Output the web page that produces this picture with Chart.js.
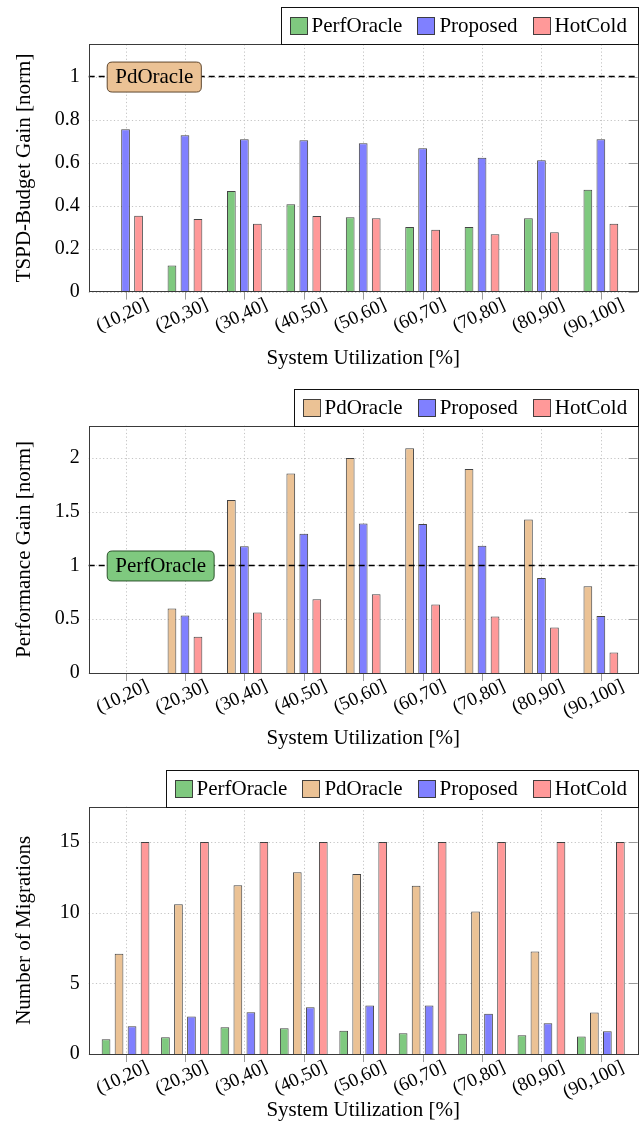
<!DOCTYPE html>
<html><head><meta charset="utf-8">
<script src="https://cdn.jsdelivr.net/npm/chart.js@4.4.1/dist/chart.umd.min.js"></script>
<style>
html,body{margin:0;padding:0;background:#fff;}
.wrap{position:absolute;left:0;width:644px;}
canvas{display:block;}
</style></head><body>
<div class="wrap" style="top:0;height:380px"><canvas id="c1" width="644" height="380"></canvas></div>
<div class="wrap" style="top:380px;height:380px"><canvas id="c2" width="644" height="380"></canvas></div>
<div class="wrap" style="top:760px;height:372px"><canvas id="c3" width="644" height="372"></canvas></div>
<script>
// ---------- data ----------
const categories = ['(10,20]', '(20,30]', '(30,40]', '(40,50]', '(50,60]', '(60,70]', '(70,80]', '(80,90]', '(90,100]'];

const budgetPerfOracle = [0, 0.121, 0.468, 0.406, 0.346, 0.300, 0.300, 0.341, 0.474];
const budgetProposed   = [0.755, 0.727, 0.709, 0.704, 0.690, 0.667, 0.622, 0.611, 0.709];
const budgetHotCold    = [0.353, 0.338, 0.316, 0.351, 0.341, 0.288, 0.267, 0.276, 0.315];
const budgetTicks = [0, 0.2, 0.4, 0.6, 0.8, 1];

const perfPdOracle = [0, 0.601, 1.608, 1.856, 2.0, 2.09, 1.898, 1.428, 0.807];
const perfProposed = [0, 0.535, 1.179, 1.294, 1.39, 1.385, 1.184, 0.884, 0.529];
const perfHotCold  = [0, 0.336, 0.563, 0.687, 0.733, 0.636, 0.525, 0.423, 0.19];
const perfTicks = [0, 0.5, 1, 1.5, 2];

const migPerfOracle = [1.04, 1.18, 1.89, 1.82, 1.65, 1.47, 1.44, 1.32, 1.23];
const migPdOracle   = [7.09, 10.59, 11.94, 12.86, 12.73, 11.9, 10.09, 7.25, 2.93];
const migProposed   = [1.96, 2.65, 2.96, 3.31, 3.43, 3.43, 2.84, 2.17, 1.61];
const migHotCold    = [15, 15, 15, 15, 15, 15, 15, 15, 15];
const migTicks = [0, 5, 10, 15];

// ---------- styles ----------
const FONT = "'Liberation Serif', 'Times New Roman', serif";
const COL = { perf: '#7fc97f', pd: '#ebc295', prop: '#8080ff', hot: '#ff9999' };
const EDGE = 'rgba(35,35,35,0.85)';
Chart.defaults.font.family = FONT;
Chart.defaults.color = '#000';

function series(label, vals, color) {
  return {
    label, backgroundColor: color, borderColor: EDGE, borderWidth: 1,
    data: vals.map((v, i) => ({ x: i, y: v }))
  };
}

function roundRect(ctx, x, y, w, h, r) {
  ctx.beginPath();
  ctx.moveTo(x + r, y);
  ctx.lineTo(x + w - r, y); ctx.quadraticCurveTo(x + w, y, x + w, y + r);
  ctx.lineTo(x + w, y + h - r); ctx.quadraticCurveTo(x + w, y + h, x + w - r, y + h);
  ctx.lineTo(x + r, y + h); ctx.quadraticCurveTo(x, y + h, x, y + h - r);
  ctx.lineTo(x, y + r); ctx.quadraticCurveTo(x, y, x + r, y);
  ctx.closePath();
}

function decor(opts) {
  return {
    id: 'decor',
    beforeDatasetsDraw(chart) {
      const { ctx, chartArea: a, scales: { x, y } } = chart;
      ctx.save();
      ctx.strokeStyle = '#c4c4c4'; ctx.lineWidth = 1; ctx.setLineDash([1.2, 2.4]);
      y.ticks.forEach(t => {
        const py = Math.round(y.getPixelForValue(t.value)) + 0.5;
        ctx.beginPath(); ctx.moveTo(a.left, py); ctx.lineTo(a.right, py); ctx.stroke();
      });
      x.ticks.forEach(t => {
        const px = Math.round(x.getPixelForValue(t.value)) + 0.5;
        ctx.beginPath(); ctx.moveTo(px, a.top); ctx.lineTo(px, a.bottom); ctx.stroke();
      });
      ctx.restore();
    },
    afterDatasetsDraw(chart) {
      const { ctx, chartArea: a, scales: { x, y } } = chart;
      ctx.save();
      // tick marks
      ctx.strokeStyle = '#9a9a9a'; ctx.lineWidth = 1;
      y.ticks.forEach(t => {
        const py = Math.round(y.getPixelForValue(t.value)) + 0.5;
        ctx.beginPath(); ctx.moveTo(a.right - 9, py); ctx.lineTo(a.right, py); ctx.stroke();
      });
      x.ticks.forEach(t => {
        const px = Math.round(x.getPixelForValue(t.value)) + 0.5;
        ctx.beginPath(); ctx.moveTo(px, a.bottom); ctx.lineTo(px, a.bottom + 8); ctx.stroke();
      });
      // reference line + label
      if (opts.ref) {
        const py = y.getPixelForValue(opts.ref.value);
        ctx.strokeStyle = '#000'; ctx.lineWidth = 1.6; ctx.setLineDash([6, 4]);
        ctx.beginPath(); ctx.moveTo(a.left, py); ctx.lineTo(a.right, py); ctx.stroke();
        ctx.setLineDash([]);
        ctx.font = '21px ' + FONT;
        const tw = ctx.measureText(opts.ref.text).width;
        const bx = a.left + 18, bw = tw + 16, bh = 30, by = py - bh / 2;
        roundRect(ctx, bx + 0.5, by + 0.5, bw, bh, 5);
        ctx.fillStyle = opts.ref.fill; ctx.fill();
        ctx.strokeStyle = opts.ref.stroke; ctx.lineWidth = 1; ctx.stroke();
        ctx.fillStyle = '#000'; ctx.textAlign = 'center'; ctx.textBaseline = 'middle';
        ctx.fillText(opts.ref.text, bx + bw / 2 + 0.5, py + 1);
      }
      // frame
      ctx.strokeStyle = '#3a3a3a'; ctx.lineWidth = 1;
      ctx.strokeRect(Math.round(a.left) + 0.5, Math.round(a.top) + 0.5,
                     Math.round(a.right - a.left), Math.round(a.bottom - a.top));
      ctx.restore();
    },
    afterDraw(chart) {
      // legend box sitting on top of the plot, right aligned
      const { ctx, chartArea: a } = chart;
      ctx.save();
      ctx.font = '21px ' + FONT;
      const items = chart.data.datasets.map(d => ({ label: d.label, color: d.backgroundColor, w: ctx.measureText(d.label).width }));
      const sq = 17, gap = 5, itemGap = 15, padL = 8, padR = 12, h = 37;
      let total = padL + padR;
      items.forEach((it, i) => { total += sq + gap + it.w + (i ? itemGap : 0); });
      const right = Math.round(a.right) + 0.5, bottom = Math.round(a.top) + 0.5;
      const left = Math.round(right - total) + 0.5, top = bottom - h;
      ctx.fillStyle = '#fff'; ctx.fillRect(left, top, right - left, h);
      ctx.strokeStyle = '#111'; ctx.lineWidth = 1; ctx.strokeRect(left, top, right - left, h);
      let cx = left + padL;
      const cy = top + h / 2 - 1;
      items.forEach((it, i) => {
        if (i) cx += itemGap;
        ctx.fillStyle = it.color; ctx.fillRect(Math.round(cx) + 0.5, Math.round(cy - sq / 2) + 0.5, sq, sq);
        ctx.strokeStyle = EDGE; ctx.strokeRect(Math.round(cx) + 0.5, Math.round(cy - sq / 2) + 0.5, sq, sq);
        cx += sq + gap;
        ctx.fillStyle = '#000'; ctx.textAlign = 'left'; ctx.textBaseline = 'middle';
        ctx.fillText(it.label, cx, cy + 1);
        cx += it.w;
      });
      ctx.restore();
    }
  };
}

function build(id, cfg) {
  const canvas = document.getElementById(id);
  const H = canvas.height;
  const nSeries = cfg.datasets.length;
  return new Chart(canvas, {
    type: 'bar',
    data: { datasets: cfg.datasets },
    options: {
      responsive: false, animation: false, devicePixelRatio: 1,
      layout: { padding: { top: cfg.top, left: 0, right: 6.3, bottom: 0 } },
      datasets: { bar: {
        categoryPercentage: 13 * nSeries / 59.4,
        barPercentage: 0.67
      } },
      plugins: { legend: { display: false }, tooltip: { enabled: false } },
      scales: {
        x: {
          type: 'linear', min: -0.62, max: 8.62, offset: false,
          afterBuildTicks: s => { s.ticks = categories.map((c, i) => ({ value: i })); },
          afterFit: s => { s.height = H - cfg.top - 247.3; },
          grid: { display: false, drawTicks: false, offset: false },
          border: { display: false },
          ticks: {
            autoSkip: false, minRotation: 25, maxRotation: 25,
            padding: 2, labelOffset: 22,
            font: { size: 19 },
            callback: v => categories[v]
          },
          title: { display: true, text: 'System Utilization [%]', font: { size: 21 }, padding: { top: 0, bottom: 9 } }
        },
        y: {
          min: 0, max: cfg.ymax,
          afterBuildTicks: s => { s.ticks = cfg.ticks.map(v => ({ value: v })); },
          afterFit: s => { s.width = 88.7; },
          grid: { display: false, drawTicks: false },
          border: { display: false },
          ticks: { padding: 9, font: { size: 20 }, callback: v => String(+v.toFixed(3)) },
          title: { display: true, text: cfg.ytitle, font: { size: 21 }, padding: { top: 12, bottom: 0 } }
        }
      }
    },
    plugins: [decor(cfg)]
  });
}

build('c1', {
  top: 44.3, ymax: 1.15, ticks: budgetTicks, ytitle: 'TSPD-Budget Gain [norm]',
  datasets: [
    series('PerfOracle', budgetPerfOracle, COL.perf),
    series('Proposed', budgetProposed, COL.prop),
    series('HotCold', budgetHotCold, COL.hot)
  ],
  ref: { value: 1, text: 'PdOracle', fill: COL.pd, stroke: 'rgba(80,55,30,0.9)' }
});

build('c2', {
  top: 45.7, ymax: 2.3, ticks: perfTicks, ytitle: 'Performance Gain [norm]',
  datasets: [
    series('PdOracle', perfPdOracle, COL.pd),
    series('Proposed', perfProposed, COL.prop),
    series('HotCold', perfHotCold, COL.hot)
  ],
  ref: { value: 1, text: 'PerfOracle', fill: COL.perf, stroke: 'rgba(30,70,30,0.9)' }
});

build('c3', {
  top: 46.7, ymax: 17.5, ticks: migTicks, ytitle: 'Number of Migrations',
  datasets: [
    series('PerfOracle', migPerfOracle, COL.perf),
    series('PdOracle', migPdOracle, COL.pd),
    series('Proposed', migProposed, COL.prop),
    series('HotCold', migHotCold, COL.hot)
  ]
});
</script>
</body></html>
